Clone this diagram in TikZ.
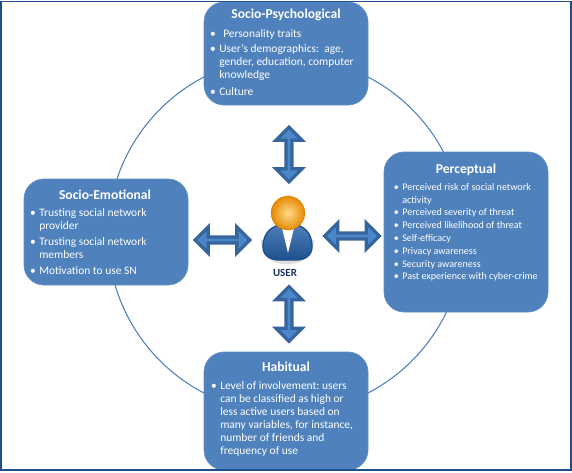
\documentclass[tikz,border=0pt]{standalone}
\usepackage{fontspec}
\setmainfont{Carlito}
\usetikzlibrary{shapes.arrows}
\definecolor{boxblue}{HTML}{4F81BD}
\definecolor{framebl}{HTML}{1F4E8C}
\definecolor{arrfill}{HTML}{4A86C8}
\definecolor{arrline}{HTML}{35659C}
\definecolor{navytxt}{HTML}{17305F}
\newcommand{\itm}{\leavevmode\llap{\textbullet\hspace{2.6pt}}}
\tikzset{
  x=0.75pt,y=-0.75pt,
  panel/.style={fill=boxblue,draw=boxblue!90!white,line width=0.5pt,rounded corners=15pt,inner sep=0pt,minimum width=123pt},
  paneltitle/.style={text=white,font=\fontsize{10.2}{12}\selectfont\bfseries,inner sep=0pt},
  panellist/.style={text=white,font=\fontsize{8.6}{9.75}\selectfont,inner sep=0pt,align=left,anchor=north west},
  smalllist/.style={panellist,font=\fontsize{7.55}{9.6}\selectfont},
  biarrow/.style={double arrow,draw=arrline,fill=arrfill,line width=2.4pt,inner sep=0pt,
     double arrow head extend=4pt,double arrow tip angle=90,minimum height=41pt,minimum width=19.5pt},
  ring/.style={draw=boxblue,line width=0.8pt}
}
\begin{document}
\begin{tikzpicture}
\useasboundingbox (0,0) rectangle (572,472);
\fill[white] (0,0) rectangle (572,472);
\coordinate (ctr) at (286,235);
\draw[ring] (ctr) circle[radius=133.5pt];

% panels
\node[panel,minimum height=77.25pt] (sp) at (286,53.5) {};
\node[panel,minimum height=120pt] (pc) at (466,232) {};
\node[panel,minimum height=79.5pt] (se) at (106,232) {};
\node[panel,minimum height=88.5pt] (hb) at (286,411) {};

% frame
\draw[framebl,line width=1.1pt] (1,1.5) rectangle (571,470);

% titles
\node[paneltitle] (sptitle) at (286,15) {Socio-Psychological};
\node[paneltitle] (pctitle) at (466,170) {Perceptual};
\node[paneltitle] (setitle) at (105,195) {Socio-Emotional};
\node[paneltitle] (hbtitle) at (286,367) {Habitual};

% lists
\node[panellist] (splist) at (219,29.5) {\itm\hspace{3pt}Personality traits\\[1pt]
\itm User’s demographics:\ \ age,\\
gender, education, computer\\
knowledge\\[3pt]
\itm Culture};
\node[smalllist] (pclist) at (402,183) {\itm Perceived risk of social network\\
activity\\
\itm Perceived severity of threat\\
\itm Perceived likelihood of threat\\
\itm Self-efficacy\\
\itm Privacy awareness\\
\itm Security awareness\\
\itm Past experience with cyber-crime};
\node[panellist] (selist) at (39,208) {\itm Trusting social network\\
provider\\[2.5pt]
\itm Trusting social network\\
members\\[2.5pt]
\itm Motivation to use SN};
\node[panellist] (hblist) at (220,381) {\itm Level of involvement:\ users\\
can be classified as high or\\
less active users based on\\
many variables, for instance,\\
number of friends and\\
frequency of use};

% user figure
\fill[black!25,opacity=0.5] (261,240) .. controls (261,254) and (268,264) .. (287,264) .. controls (306,264) and (314,254) .. (314,240) -- cycle;
\draw[draw=framebl,line width=1pt,top color=boxblue,bottom color=framebl]
  (263,247) .. controls (263,232) and (272,226) .. (283,224) -- (293,224)
  .. controls (304,226) and (312,232) .. (312,247)
  .. controls (312,256) and (304,260) .. (296,260) -- (279,260)
  .. controls (271,260) and (263,256) .. (263,247) -- cycle;
\fill[white] (282,228) -- (294,228) -- (288,253) -- cycle;
\node[circle,minimum size=25.5pt,inner sep=0pt,draw=orange!75!black,densely dotted,line width=0.5pt,
   inner color=yellow!35!orange!45!white,outer color=orange!80!yellow!90!black] (head) at (288,213) {};
\node[text=navytxt,font=\fontsize{8.2}{10}\selectfont\bfseries,inner sep=0pt] (user) at (285,273) {USER};

% arrows
\node[biarrow,shape border rotate=90] (au) at (289,154.5) {};
\node[biarrow,shape border rotate=90] (ad) at (289,314) {};
\node[biarrow] (al) at (222.5,240) {};
\node[biarrow] (ar) at (352,236) {};
\end{tikzpicture}
\end{document}
